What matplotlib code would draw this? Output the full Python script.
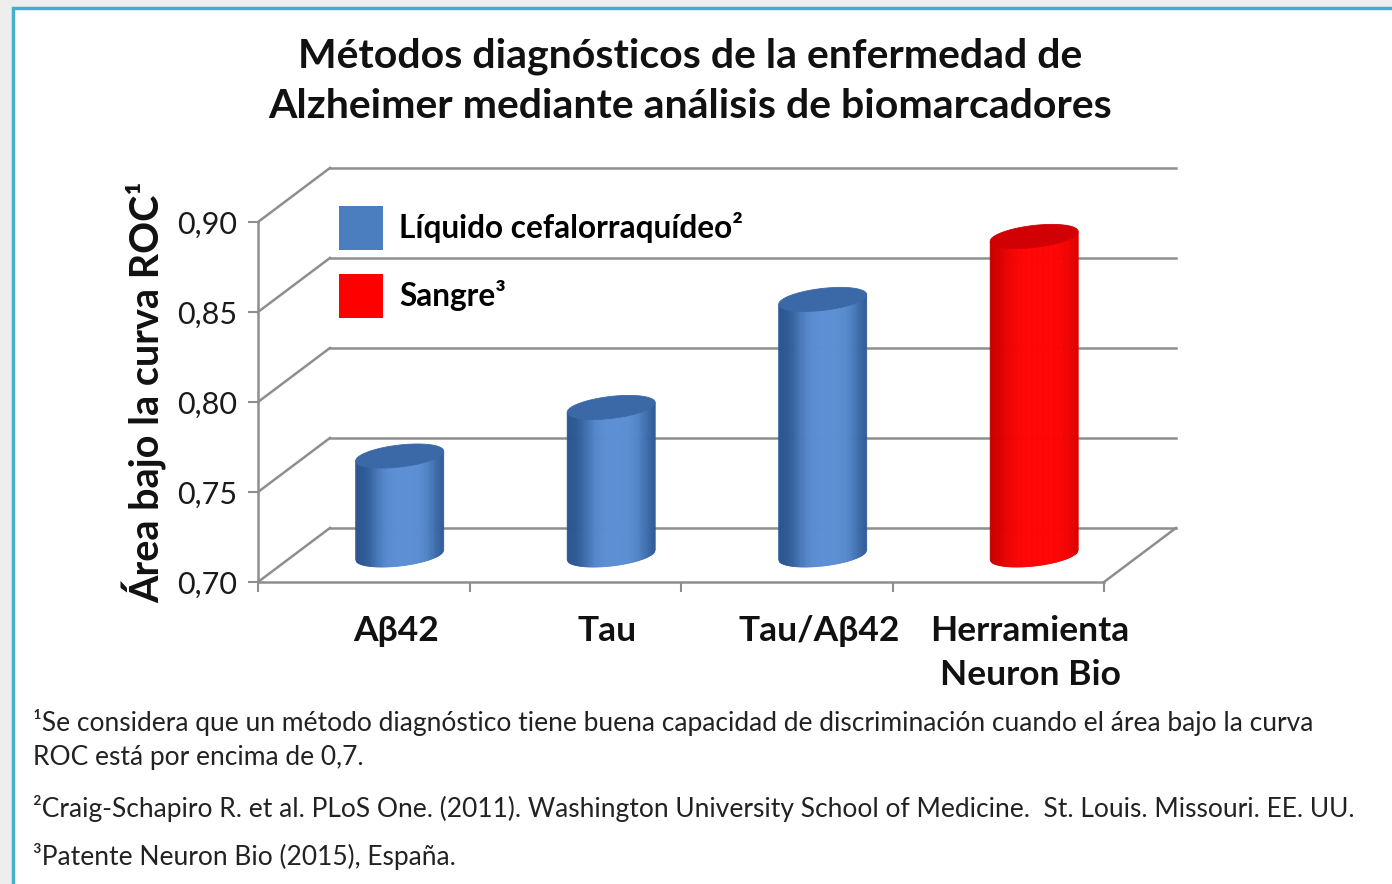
import matplotlib.pyplot as plt
from matplotlib.patches import Polygon, Rectangle, Patch
from matplotlib.transforms import IdentityTransform
import numpy as np

# data
categories = ["A\u03b242", "Tau", "Tau/A\u03b242", "Herramienta\nNeuron Bio"]
auc_values = [0.755, 0.782, 0.842, 0.877]
sample_type = ["csf", "csf", "csf", "blood"]
y_ticks = [0.70, 0.75, 0.80, 0.85, 0.90]
y_tick_labels = ["0,70", "0,75", "0,80", "0,85", "0,90"]
legend_labels = ["L\u00edquido cefalorraqu\u00eddeo\u00b2", "Sangre\u00b3"]
title = ("M\u00e9todos diagn\u00f3sticos de la enfermedad de\n"
         "Alzheimer mediante an\u00e1lisis de biomarcadores")
y_label = "\u00c1rea bajo la curva ROC\u00b9"
footnotes = [
    "\u00b9Se considera que un m\u00e9todo diagn\u00f3stico tiene buena capacidad de "
    "discriminaci\u00f3n cuando el \u00e1rea bajo la curva",
    "ROC est\u00e1 por encima de 0,7.",
    "\u00b2Craig-Schapiro R. et al. PLoS One. (2011). Washington University School "
    "of Medicine.  St. Louis. Missouri. EE. UU.",
    "\u00b3Patente Neuron Bio (2015), Espa\u00f1a.",
]

FONT = ["Lato", "DejaVu Sans"]
GRID = "#8e8e8e"
COLORS = {
    "csf": {"dark": (0.17, 0.34, 0.57), "light": (0.36, 0.56, 0.83),
            "cap": (0.23, 0.41, 0.66), "flat": "#4a7ebf", "width": 0.36},
    "blood": {"dark": (0.76, 0.0, 0.0), "light": (1.0, 0.02, 0.02),
              "cap": (0.82, 0.0, 0.02), "flat": "#ff0000", "width": 0.45},
}

W, H = 1392, 884
DX, DY = 0.34, 0.03      # depth of the 3D box, in data units
BAR_W = 0.416            # cylinder diameter, in category units

plt.rcParams["font.family"] = FONT


def cylinder(ax, xc, y0, y1, colors, zorder=5):
    """Draw a shaded cylinder; positions come from data, shape in pixels."""
    to_px = ax.transData.transform
    (bx, by), (tx, ty) = to_px([(xc, y0), (xc, y1)])
    (lx, _), (rx, _) = to_px([(xc - BAR_W / 2, y0), (xc + BAR_W / 2, y0)])
    w = (rx - lx) / 2
    b = 11.0
    s = 0.11
    n = 80
    xs = np.linspace(-w, w, n + 1)
    front = -b * np.sqrt(np.clip(1 - (xs / w) ** 2, 0, 1))
    dark = np.array(colors["dark"])
    light = np.array(colors["light"])
    for i in range(n):
        t = (i + 0.5) / n
        f = np.exp(-((t - 0.56) / colors["width"]) ** 4)
        col = dark + (light - dark) * f
        pts = [
            (bx + xs[i], by + s * xs[i] + front[i]),
            (bx + xs[i + 1], by + s * xs[i + 1] + front[i + 1]),
            (tx + xs[i + 1], ty + s * xs[i + 1] + front[i + 1]),
            (tx + xs[i], ty + s * xs[i] + front[i]),
        ]
        ax.add_patch(Polygon(pts, closed=True, facecolor=col, edgecolor=col,
                             linewidth=0.6, transform=IdentityTransform(),
                             zorder=zorder, clip_on=False))
    th = np.linspace(0, 2 * np.pi, 120)
    ex = w * np.cos(th)
    cap = np.column_stack([tx + ex, ty + s * ex + b * np.sin(th)])
    ax.add_patch(Polygon(cap, closed=True, facecolor=colors["cap"],
                         edgecolor=colors["cap"], linewidth=0.6,
                         transform=IdentityTransform(), zorder=zorder + 1,
                         clip_on=False))


fig = plt.figure(figsize=(W / 100, H / 100), dpi=100)
fig.patch.set_facecolor("#eeeeee")
fig.add_artist(Rectangle((13 / W, -0.05), 1.0, 1 - 8 / H + 0.05,
                         transform=fig.transFigure, facecolor="white",
                         edgecolor="#45afcb", linewidth=2.5, zorder=0))

ax = fig.add_axes([258 / W, 1 - 582 / H, 846 / W, 360 / H])
ax.set_xlim(0, 4)
ax.set_ylim(0.70, 0.90)
ax.patch.set_alpha(0)
for side in ["top", "right"]:
    ax.spines[side].set_visible(False)
for side in ["left", "bottom"]:
    ax.spines[side].set_color(GRID)
    ax.spines[side].set_linewidth(1.8)

# back wall gridlines and side diagonals
for yv in y_ticks:
    ax.plot([DX, 4 + DX], [yv + DY, yv + DY], color=GRID, lw=1.8,
            clip_on=False, zorder=1)
    ax.plot([0, DX], [yv, yv + DY], color=GRID, lw=1.8, clip_on=False, zorder=1)
ax.plot([4, 4 + DX], [0.70, 0.70 + DY], color=GRID, lw=1.8, clip_on=False, zorder=1)

ax.set_yticks(y_ticks, y_tick_labels)
ax.set_xticks(range(len(categories) + 1), [""] * (len(categories) + 1))
ax.tick_params(axis="y", length=7, width=1.5, color=GRID, labelsize=22,
               pad=8, labelcolor="#1a1a1a")
ax.tick_params(axis="x", length=7, width=1.5, color=GRID)

for i, (name, val, kind) in enumerate(zip(categories, auc_values, sample_type)):
    xc = i + 0.5 + DX / 2
    cylinder(ax, xc, 0.70 + DY / 2, val + DY / 2, COLORS[kind])
    ax.annotate(name, (xc, 0.70), xytext=(-4, -33), textcoords="offset pixels",
                ha="center", va="top", fontsize=25.5, fontweight="bold",
                linespacing=1.48, color="#111111", annotation_clip=False)

handles = [Patch(facecolor=COLORS[k]["flat"], edgecolor="none")
           for k in ["csf", "blood"]]
ax.legend(handles, legend_labels, loc="upper left",
          bbox_to_anchor=(339 / W, 1 - 206 / H), bbox_transform=fig.transFigure,
          frameon=False, borderpad=0, borderaxespad=0, handlelength=1.39,
          handleheight=1.76, handletextpad=0.5, labelspacing=0.76,
          prop={"family": FONT, "weight": "bold", "size": 22.8})

fig.text(690 / W, 1 - 81 / H, title, ha="center", va="center", fontsize=29.5,
         fontweight="bold", linespacing=1.42, color="#111111")
fig.text(145 / W, 1 - 392 / H, y_label, ha="center", va="center", rotation=90,
         fontsize=28.5, fontweight="bold", color="#111111")

foot_y = [722, 758, 808, 856]
for txt, yp in zip(footnotes, foot_y):
    fig.text(33 / W, 1 - yp / H, txt, ha="left", va="center", fontsize=19.0,
             color="#222222")

fig.savefig("out.png", dpi=100, facecolor=fig.get_facecolor())
